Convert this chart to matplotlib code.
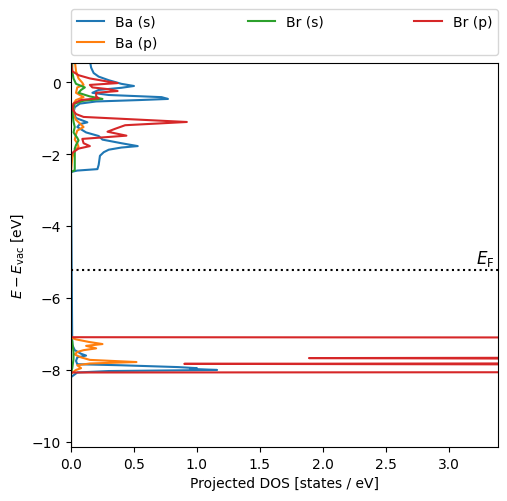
import matplotlib
matplotlib.use("Agg")
import matplotlib.pyplot as plt

# energies (eV) and projected DOS
ba_s_e = [0.6, 0.4, 0.25, 0.15, 0.05, -0.05, -0.11, -0.16, -0.22, -0.30, -0.36, -0.42, -0.47, -0.50,
          -0.54, -0.60, -0.70, -0.85, -1.0, -1.08, -1.12, -1.17, -1.25, -1.40, -1.50, -1.60, -1.70,
          -1.78, -1.82, -1.88, -1.95, -2.05, -2.30, -2.42, -2.46, -2.50, -7.30, -7.45, -7.55, -7.60,
          -7.65, -7.75, -7.84, -7.87, -7.92, -7.95, -7.97, -8.00, -8.03, -8.07, -8.2, -10.3]
ba_s_d = [0.15, 0.16, 0.18, 0.22, 0.30, 0.40, 0.50, 0.40, 0.22, 0.17, 0.30, 0.72, 0.77, 0.55,
          0.20, 0.07, 0.03, 0.02, 0.04, 0.10, 0.13, 0.07, 0.05, 0.12, 0.22, 0.25, 0.40,
          0.53, 0.40, 0.30, 0.26, 0.23, 0.22, 0.21, 0.05, 0.0, 0.01, 0.03, 0.08, 0.12,
          0.05, 0.04, 0.05, 0.40, 0.85, 1.00, 0.95, 1.16, 0.30, 0.05, 0.0, 0.0]

ba_p_e = [0.6, 0.3, 0.1, -0.02, -0.08, -0.15, -0.30, -0.38, -0.42, -0.50, -0.60, -0.90, -1.05, -1.15,
          -1.25, -1.35, -1.45, -1.60, -1.70, -1.80, -1.90, -2.10, -2.50, -7.10, -7.15, -7.22, -7.28,
          -7.33, -7.40, -7.45, -7.50, -7.57, -7.65, -7.72, -7.78, -7.82, -7.87, -7.95, -8.00, -8.05,
          -8.10, -10.3]
ba_p_d = [0.03, 0.04, 0.06, 0.09, 0.10, 0.05, 0.04, 0.08, 0.10, 0.04, 0.02, 0.02, 0.04, 0.07,
          0.10, 0.05, 0.04, 0.03, 0.05, 0.06, 0.03, 0.01, 0.0, 0.0, 0.04, 0.14, 0.25,
          0.12, 0.20, 0.10, 0.05, 0.03, 0.08, 0.15, 0.52, 0.15, 0.05, 0.08, 0.04, 0.02,
          0.0, 0.0]

br_s_e = [0.6, 0.3, 0.1, -0.05, -0.15, -0.22, -0.30, -0.40, -0.47, -0.52, -0.60, -0.80, -1.10, -1.25,
          -1.40, -1.55, -1.62, -1.75, -1.85, -2.0, -2.45, -2.50, -7.15, -7.20, -7.50, -7.70, -7.95,
          -8.10, -10.3]
br_s_d = [0.01, 0.01, 0.02, 0.04, 0.11, 0.08, 0.06, 0.15, 0.25, 0.10, 0.03, 0.01, 0.02, 0.03,
          0.02, 0.05, 0.06, 0.04, 0.03, 0.03, 0.03, 0.0, 0.0, 0.01, 0.02, 0.02, 0.01,
          0.0, 0.0]

br_p_e = [0.6, 0.3, 0.19, 0.10, 0.02, -0.03, -0.08, -0.15, -0.20, -0.25, -0.30, -0.40, -0.45, -0.50,
          -0.60, -0.75, -0.89, -0.97, -1.11, -1.20, -1.30, -1.38, -1.49, -1.58, -1.70, -1.78, -1.85,
          -1.97, -2.05, -7.09, -7.105, -7.115, -7.64, -7.67, -7.72, -7.80, -7.83, -7.87, -8.04,
          -8.055, -8.07, -10.3]
br_p_d = [0.0, 0.01, 0.06, 0.15, 0.28, 0.37, 0.15, 0.17, 0.30, 0.37, 0.20, 0.20, 0.22, 0.08,
          0.02, 0.01, 0.04, 0.10, 0.92, 0.43, 0.35, 0.29, 0.44, 0.09, 0.10, 0.15, 0.06,
          0.01, 0.0, 0.0, 8.0, 8.0, 8.0, 1.89, 8.0, 8.0, 0.90, 8.0, 8.0,
          8.0, 0.0, 0.0]

e_fermi = -5.22

fig = plt.figure(figsize=(5.07, 5.02), dpi=100)
ax = fig.add_axes([0.140, 0.1076, 0.842, 0.765])

ax.plot(ba_s_d, ba_s_e, label='Ba (s)')
ax.plot(ba_p_d, ba_p_e, label='Ba (p)')
ax.plot(br_s_d, br_s_e, label='Br (s)')
ax.plot(br_p_d, br_p_e, label='Br (p)')

ax.axhline(e_fermi, color='k', linestyle=':')
ax.text(3.36, e_fermi + 0.05, r'$E_\mathrm{F}$', ha='right', va='bottom', fontsize=12)

ax.set_xlim(0, 3.39)
ax.set_ylim(-10.14, 0.53)
ax.set_xlabel('Projected DOS [states / eV]')
ax.set_ylabel(r'$E - E_\mathrm{vac}$ [eV]')
ax.legend(bbox_to_anchor=(0, 1.02, 1, 0.2), loc='lower left', mode='expand',
          ncol=3, borderaxespad=0)

fig.savefig('out.png', dpi=100)
